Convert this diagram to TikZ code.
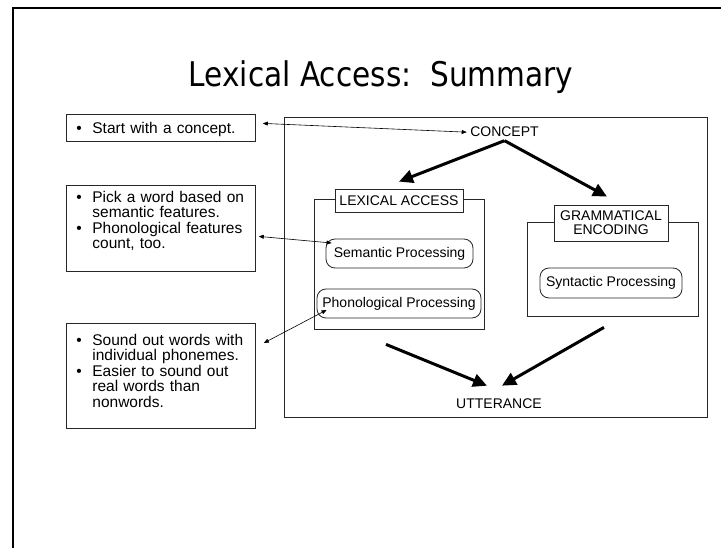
\documentclass[tikz,border=0pt]{standalone}
\usepackage{fontspec}
\setmainfont{Liberation Sans}
\newfontfamily\titlefont[FakeStretch=0.87]{DejaVu Sans}
\usetikzlibrary{arrows.meta}

\newcommand{\bul}{\hspace*{9pt}\makebox[16pt][l]{\textbullet}}
\newcommand{\ind}{\hspace*{25pt}}

\tikzstyle{note} = [draw=black!85, line width=0.8pt, anchor=north west, inner xsep=1pt, inner ysep=0pt, text width=187pt, align=left, font=\fontsize{15.5}{15.5}\selectfont]
\tikzstyle{group} = [draw=black!85, line width=0.8pt, inner sep=0pt]
\tikzstyle{tagbox} = [draw=black!85, fill=white, line width=0.8pt, inner sep=0pt, align=center, font=\fontsize{14}{14}\selectfont]
\tikzstyle{procbox} = [draw=black!85, rounded corners=9pt, line width=0.8pt, inner sep=0pt, font=\fontsize{14}{14}\selectfont]
\tikzstyle{plain} = [font=\fontsize{14}{14}\selectfont]
\tikzstyle{bigarrow} = [line width=3pt, -{Triangle[length=14pt,width=13pt]}]
\tikzstyle{thinarrow} = [line width=0.6pt, {Triangle[length=5pt,width=4pt]}-{Triangle[length=5pt,width=4pt]}]

\begin{document}
\begin{tikzpicture}[x=1pt, y=-1pt]
        \useasboundingbox (0,0) rectangle (721,548);
        \draw [line width=1.2pt] (13,548) -- (13,8) -- (721,8);

        \node (title) [anchor=base, font=\titlefont\fontsize{34}{34}\selectfont] at (381,87) {Lexical Access:\ \ Summary};

        % notes on the left
        \node (startnote) [note, text height=19pt, text depth=8pt] at (66,114) {\bul Start with a concept.};
        \node (picknote) [note, text height=16.7pt, text depth=69.3pt] at (66,185) {\bul Pick a word based on\\ \ind semantic features.\\ \bul Phonological features\\ \ind count, too.};
        \node (soundnote) [note, text height=22pt, text depth=83pt] at (66,323) {\bul Sound out words with\\ \ind individual phonemes.\\ \bul Easier to sound out\\ \ind real words than\\ \ind nonwords.};

        % the model
        \node (stage) [group, minimum width=423pt, minimum height=300pt] at (495.5,267) {};
        \node (concept) [plain, anchor=base] at (504.5,137) {CONCEPT};
        \node (utterance) [plain, anchor=base] at (499,409) {UTTERANCE};

        \node (lexframe) [group, minimum width=170pt, minimum height=130pt] at (399,264) {};
        \node (lextag) [tagbox, minimum width=128pt, minimum height=23pt] at (399,200.5) {LEXICAL ACCESS};
        \node (semantic) [procbox, minimum width=147pt, minimum height=29pt] at (399.5,253.5) {Semantic Processing};
        \node (phonological) [procbox, minimum width=164pt, minimum height=29pt] at (399,303.5) {Phonological Processing};

        \node (gramframe) [group, minimum width=171pt, minimum height=94pt] at (612.5,269) {};
        \node (gramtag) [tagbox, minimum width=114pt, minimum height=36pt] at (611,223) {GRAMMATICAL\\ENCODING};
        \node (syntactic) [procbox, minimum width=142pt, minimum height=30pt] at (611,283) {Syntactic Processing};

        \draw [thinarrow] ([xshift=7pt,yshift=4.5pt]startnote.east) -- (concept.west);
        \draw [thinarrow] ([xshift=3pt,yshift=-8pt]picknote.east) -- ([xshift=6pt,yshift=10.5pt]semantic.west);
        \draw [thinarrow] ([xshift=8pt,yshift=-20pt]soundnote.north east) -- ([xshift=10pt,yshift=-6.5pt]phonological.west);

        \draw [bigarrow] (concept.south) -- ([yshift=7pt]lextag.north);
        \draw [bigarrow] (concept.south) -- ([xshift=-4pt,yshift=8pt]gramtag.north);
        \draw [bigarrow] ([xshift=-13pt,yshift=-15pt]lexframe.south) -- ([xshift=-12pt,yshift=10pt]utterance.north);
        \draw [bigarrow] ([xshift=-8.5pt,yshift=-11pt]gramframe.south) -- ([xshift=3pt,yshift=10pt]utterance.north);
    \end{tikzpicture}
\end{document}
